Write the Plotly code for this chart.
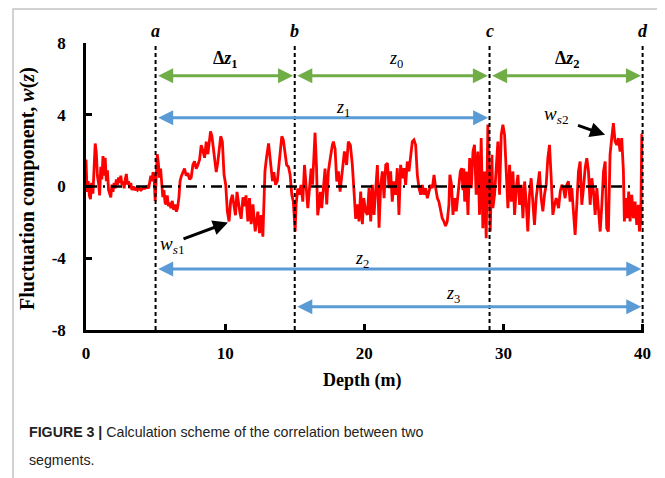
import plotly.graph_objects as go

# ---------------- data ----------------
depth = [
    0.0, 0.08, 0.16, 0.24, 0.32, 0.40, 0.50, 0.58, 0.66, 0.74, 0.82, 0.90, 0.98, 1.06, 1.14, 1.22, 1.30, 1.38,
    1.46, 1.54, 1.62, 1.70, 1.78, 1.86, 1.94, 2.02, 2.10, 2.18, 2.26, 2.34, 2.42, 2.50, 2.58, 2.66, 2.74, 2.82,
    2.90, 2.98, 3.06, 3.14, 3.22, 3.30, 3.40, 3.50, 3.60, 3.70, 3.80, 3.95, 4.10, 4.25, 4.40, 4.50, 4.58, 4.66,
    4.74, 4.82, 4.90, 4.97, 5.04, 5.12, 5.20, 5.28, 5.36, 5.44, 5.52, 5.60, 5.68, 5.76, 5.84, 5.92, 6.00, 6.10,
    6.20, 6.30, 6.40, 6.50, 6.58,
    6.68, 6.76, 6.84, 6.96, 7.08, 7.20, 7.32, 7.44, 7.56, 7.68, 7.80, 7.92, 8.04, 8.16, 8.28, 8.40, 8.52, 8.64,
    8.76, 8.88, 8.95, 9.05, 9.15, 9.24, 9.36, 9.48, 9.60, 9.68, 9.80, 9.92, 10.04, 10.16, 10.28, 10.40, 10.52,
    10.64, 10.74, 10.85, 10.95, 11.05, 11.15, 11.28, 11.40, 11.50, 11.63, 11.75, 11.87, 12.00, 12.08, 12.16,
    12.26, 12.35, 12.47, 12.59, 12.71, 12.80, 12.86, 12.97, 13.05, 13.12, 13.20, 13.28, 13.40,
    13.50, 13.62, 13.75, 13.85, 13.95, 14.07, 14.18, 14.30, 14.42, 14.55, 14.67, 14.79, 14.90, 15.03, 15.10,
    15.22, 15.32, 15.45, 15.58, 15.70, 15.82, 15.94, 16.06, 16.18, 16.28, 16.37, 16.46, 16.56, 16.65, 16.75,
    16.84, 16.94, 17.06, 17.18, 17.30, 17.42, 17.52, 17.61, 17.70, 17.78, 17.90, 18.02, 18.14, 18.26, 18.38,
    18.48, 18.57, 18.73, 18.85, 19.00, 19.14, 19.26, 19.38, 19.50, 19.62, 19.74, 19.86, 19.96, 20.10,
    20.22, 20.34, 20.46, 20.58, 20.70, 20.82, 20.94, 21.06, 21.18, 21.30, 21.42, 21.54, 21.66, 21.78, 21.89,
    22.01, 22.13, 22.25, 22.37, 22.49, 22.61, 22.73, 22.85, 22.97, 23.09, 23.21, 23.33, 23.45, 23.57, 23.69,
    23.81, 23.93, 24.05, 24.17, 24.29, 24.41, 24.53, 24.65, 24.77, 24.89, 25.01, 25.13, 25.25, 25.36, 25.48,
    25.60, 25.72, 25.84, 25.96, 26.08, 26.15, 26.27, 26.37, 26.51, 26.61, 26.75, 26.90, 27.00,
    27.09, 27.15, 27.21, 27.33, 27.45, 27.57, 27.69, 27.81, 27.92, 28.04, 28.16, 28.28, 28.40, 28.52, 28.64,
    28.76, 28.88, 28.95, 29.05, 29.17, 29.24, 29.36, 29.48, 29.60, 29.72, 29.84, 29.96, 30.08, 30.20, 30.32,
    30.44, 30.56, 30.68, 30.80, 30.92, 31.04, 31.16, 31.28, 31.40, 31.52, 31.63, 31.75, 31.87, 31.99, 32.11,
    32.23, 32.35, 32.47, 32.59, 32.71, 32.83, 32.95, 33.07, 33.19, 33.31, 33.43, 33.55, 33.67,
    33.79, 33.96, 34.08, 34.20, 34.31, 34.43, 34.55, 34.67, 34.79, 34.91, 35.03, 35.15, 35.27, 35.39, 35.51,
    35.63, 35.75, 35.87, 35.99, 36.11, 36.23, 36.35, 36.47, 36.59, 36.71, 36.83, 36.95, 37.07, 37.19, 37.31,
    37.42, 37.54, 37.66, 37.78, 37.90, 38.02, 38.14, 38.26, 38.38, 38.50, 38.62, 38.69, 38.81, 38.91, 39.00,
    39.10, 39.22, 39.34, 39.46, 39.58, 39.70, 39.77, 39.87, 39.94, 40.00,
]

w_fluct = [
    1.5, -0.3, 0.3, -0.5, -0.7, 0.2, -0.4, 1.2, 2.4, 1.9, 0.6, 0.2, -0.5, 1.1, 0.4, 1.7, 0.6, 1.6,
    0.3, 0.9, -0.2, -0.4, -0.6, 0.1, -0.3, 0.2, -0.1, 0.4, 0.1, 0.5, 0.2, 0.6, 0.1, 0.3, -0.1, 0.4,
    0.7, 0.1, 0.3, -0.1, 0.2, -0.2, 0.0, -0.2, -0.1, -0.2, -0.1, -0.2, -0.1, -0.1, 0.0, -0.1, 0.2, 0.6,
    0.3, 0.8, 0.5, -0.8, 0.4, 1.8, 1.3, 0.5, 1.0, -0.2, -0.6, -0.2, -0.9, -1.0, -0.5, -1.1, -0.9, -1.2,
    -0.8, -1.3, -1.0, -1.4, -1.2,
    -0.6, 0.3, 0.55, 0.8, 1.0, 0.6, 0.75, 0.4, 0.5, 1.2, 1.4, 1.0, 1.2, 1.5, 2.3, 2.0, 1.6, 2.5,
    1.8, 2.6, 3.07, 2.8, 2.2, 1.8, 0.8, 1.4, 2.2, 2.8, 2.5, 0.65, 0.1, -1.4, -1.95, -0.8, -0.46,
    -1.2, -1.6, -0.3, -1.0, -1.4, -1.8, -0.6, -1.1, -0.5, -1.95, -0.65, -2.1, -1.0, -1.8, -2.5,
    -1.9, -1.4, -2.6, -1.6, -2.8, -1.0, 0.85, 1.6, 2.0, 2.4, 1.8, 1.2, 0.3,
    0.8, 0.1, 0.3, 1.2, 2.1, 2.8, 2.6, 1.8, 1.2, 1.1, 0.65, -0.46, -0.85, -2.5, -1.0,
    -0.1, -0.46, 0.09, -0.84, 1.2, 0.1, -1.2, -0.1, 1.0, 0.1, 1.6, 3.0, 1.2, -1.6, -1.0,
    -0.3, -1.2, -0.1, 1.0, -1.0, 0.84, 1.4, 1.95, 2.3, 2.5, 2.1, 0.28, 0.84, -0.28, 0.46,
    1.3, 1.95, 1.2, 2.5, 2.3, 1.2, -0.28, -1.8, -1.0, -1.95, -0.28, -2.1, -0.65, -1.4,
    -1.58, -0.09, -1.95, 0.09, -1.58, -0.28, 1.2, -2.3, 0.09, 0.84, -0.65, 1.21, 1.3, -0.09, 0.84,
    -0.84, 0.28, -0.46, 1.02, -1.58, 1.21, 0.46, 1.02, 0.09, 1.39, 0.84, 1.58, 2.5, 2.6, 2.32,
    0.65, -0.09, -0.46, 0.09, -0.46, -0.09, -0.65, -0.28, 0.09, -0.09, 0.65, -0.09, -0.65, -0.84, -1.39,
    -1.77, -1.95, -2.2, -1.95, -1.02, 0.65, 0.09, -1.58, -0.65, -1.39, -0.09, 0.84, 1.02,
    -0.2, 1.0, -0.84, 0.84, -1.58, 1.58, -0.09, 1.95, 2.32, -0.46, 1.95, -1.58, 2.7, -2.32, 0.84,
    -2.88, 3.45, 0.84, -2.51, 1.77, -1.21, -0.46, 1.39, 2.51, -0.46, 2.88, 3.44, 2.88, 0.84, -1.21,
    1.21, -0.84, 0.84, -1.58, -0.09, 0.65, -1.02, 0.09, -1.77, 0.28, -0.84, -2.51, -0.46, 0.46, -0.84,
    -2.14, -0.65, 0.09, 0.84, -0.65, -1.39, -0.46, 0.09, 1.58, 2.32, 0.46, -1.58, -1.02,
    -0.65, -1.21, -0.28, 0.09, -0.09, -0.65, 0.09, 0.28, -0.84, -0.09, -1.39, -2.7, -1.02, 0.84, 1.39,
    -1.02, -0.09, 1.02, 1.58, 0.84, -1.02, 0.46, -0.28, -1.58, -0.09, -1.21, -2.51, -1.02, 0.84, 1.39,
    -2.32, -2.51, 1.77, 2.7, 3.53, 2.51, 2.32, 2.7, 1.95, 2.7, 0.84, -1.95, -0.65, -1.77, -0.28,
    -1.95, -0.46, -1.77, -0.84, -2.14, -1.02, -2.51, -1.95, 2.88, 2.9,
]

boundary_depth = [5, 15, 29, 40]
boundary_label = ["a", "b", "c", "d"]

x_ticks = [0, 10, 20, 30, 40]
y_ticks = [-8, -4, 0, 4, 8]
y_ticktext = ["-8", "-4", "0", "4", "8"]

# arrows: (start depth, end depth) and levels
green_spans = [(5, 15), (15, 29), (29, 40)]
green_level = 6.18
blue_spans = [(5, 29, 3.83), (5, 40, -4.6), (15, 40, -6.7)]

span_labels = [
    ("<b>Δ<i>z</i><sub>1</sub></b>", 10.0, 7.1),
    ("<i>z</i><sub>0</sub>", 22.3, 7.1),
    ("<b>Δ<i>z</i><sub>2</sub></b>", 34.6, 7.1),
    ("<i>z</i><sub>1</sub>", 18.5, 4.35),
    ("<i>z</i><sub>2</sub>", 19.8, -4.05),
    ("<i>z</i><sub>3</sub>", 26.4, -6.0),
]

# ---------------- figure ----------------
SERIF = "Liberation Serif, Times New Roman, serif"
SANS = "Liberation Sans, Arial, sans-serif"
GREEN = "#70AD47"
BLUE = "#5B9BD5"

# the page body has an 8px margin, so the figure starts at screen (8, 8)
OX, OY = 8, 8
W, H = 665 - OX, 478 - OY
PLOT_LEFT, PLOT_TOP = 86, 43          # screen px
PW, PH = 558, 287
ML, MT = PLOT_LEFT - OX, PLOT_TOP - OY
MR = W - ML - PW
MB = H - MT - PH


def px_to_paper_x(px):
    return (px - PLOT_LEFT) / PW


def py_to_paper_y(py):
    return (PLOT_TOP + PH - py) / PH


fig = go.Figure()

fig.add_trace(go.Scatter(
    x=depth, y=w_fluct, mode="lines",
    line=dict(color="#FF0000", width=2.8),
    showlegend=False, hoverinfo="skip",
))

fig.add_trace(go.Scatter(
    x=[0, 39.5], y=[0, 0], mode="lines",
    line=dict(color="black", width=2.5, dash="11px,6px,2px,6px"),
    showlegend=False, hoverinfo="skip",
))

shapes = []
for d in boundary_depth:
    shapes.append(dict(
        type="line", xref="x", yref="y", x0=d, x1=d, y0=-8, y1=7.9,
        line=dict(color="black", width=2, dash="4px,3px"),
    ))

# grey frame around the figure panel
shapes.append(dict(
    type="rect", xref="paper", yref="paper",
    x0=px_to_paper_x(13), x1=px_to_paper_x(660),
    y0=py_to_paper_y(9), y1=py_to_paper_y(495),
    line=dict(color="#C4C4C4", width=1.5), fillcolor="rgba(0,0,0,0)",
    layer="below",
))

annotations = []
for d, lab in zip(boundary_depth, boundary_label):
    annotations.append(dict(
        x=d, y=py_to_paper_y(31), xref="x", yref="paper", text="<b><i>%s</i></b>" % lab,
        showarrow=False, font=dict(family=SERIF, size=18, color="black"),
        yanchor="middle",
    ))


def double_arrow(x0, x1, y, color):
    return dict(
        x=x1, y=y, ax=x0, ay=y, xref="x", yref="y", axref="x", ayref="y",
        text="", showarrow=True, arrowhead=2, arrowside="end+start",
        arrowsize=1.0, arrowwidth=3, arrowcolor=color, standoff=0, startstandoff=0,
    )


for a0, a1 in green_spans:
    annotations.append(double_arrow(a0 + 0.08, a1 - 0.12, green_level, GREEN))
for a0, a1, lev in blue_spans:
    annotations.append(double_arrow(a0 + 0.08, a1 - 0.1, lev, BLUE))

for txt, xx, yy in span_labels:
    annotations.append(dict(
        x=xx, y=yy, xref="x", yref="y", text=txt,
        showarrow=False, font=dict(family=SERIF, size=18, color="black"),
    ))

# w_s1 / w_s2 labels and pointers
annotations.append(dict(
    x=6.2, y=-3.25, xref="x", yref="y", text="<i>w</i><sub><i>s</i>1</sub>",
    showarrow=False, font=dict(family=SERIF, size=19, color="black"),
))
annotations.append(dict(
    x=10.2, y=-2.0, ax=6.9, ay=-2.95, xref="x", yref="y", axref="x", ayref="y",
    text="", showarrow=True, arrowhead=2, arrowsize=1.0, arrowwidth=3,
    arrowcolor="black", standoff=0, startstandoff=0,
))
annotations.append(dict(
    x=33.8, y=4.0, xref="x", yref="y", text="<i>w</i><sub><i>s</i>2</sub>",
    showarrow=False, font=dict(family=SERIF, size=19, color="black"),
))
annotations.append(dict(
    x=37.3, y=2.88, ax=35.25, ay=3.44, xref="x", yref="y", axref="x", ayref="y",
    text="", showarrow=True, arrowhead=2, arrowsize=1.0, arrowwidth=3,
    arrowcolor="black", standoff=0, startstandoff=0,
))

# axis titles
annotations.append(dict(
    x=px_to_paper_x(27), y=py_to_paper_y(189), xref="paper", yref="paper",
    text="<b>Fluctuation component, <i>w</i>(<i>z</i>)</b>", textangle=-90,
    showarrow=False, font=dict(family=SERIF, size=20, color="black"),
    xanchor="center", yanchor="middle",
))
annotations.append(dict(
    x=px_to_paper_x(362), y=py_to_paper_y(380), xref="paper", yref="paper",
    text="<b>Depth (m)</b>", showarrow=False,
    font=dict(family=SERIF, size=18, color="black"),
    xanchor="center", yanchor="middle",
))

# caption
annotations.append(dict(
    x=px_to_paper_x(27), y=py_to_paper_y(432), xref="paper", yref="paper",
    text="<b>FIGURE 3 |</b> Calculation scheme of the correlation between two",
    showarrow=False, font=dict(family=SANS, size=14.2, color="#222222"),
    xanchor="left", yanchor="middle",
))
annotations.append(dict(
    x=px_to_paper_x(27), y=py_to_paper_y(460), xref="paper", yref="paper",
    text="segments.", showarrow=False,
    font=dict(family=SANS, size=14.2, color="#222222"),
    xanchor="left", yanchor="middle",
))

axis_font = dict(family=SERIF, size=17, color="black", weight="bold")

fig.update_layout(
    width=W, height=H,
    margin=dict(l=ML, r=MR, t=MT, b=MB, pad=0),
    paper_bgcolor="white", plot_bgcolor="white",
    showlegend=False,
    shapes=shapes,
    annotations=annotations,
    xaxis=dict(
        range=[0, 40.1], tickvals=x_ticks, ticktext=[str(t) for t in x_ticks],
        showgrid=False, zeroline=False, showline=True, linecolor="black", linewidth=2.5,
        ticks="inside", ticklen=6, tickwidth=2.5, tickcolor="black",
        tickfont=axis_font, ticklabelstandoff=6,
    ),
    yaxis=dict(
        range=[-8, 8], tickvals=y_ticks, ticktext=y_ticktext,
        showgrid=False, zeroline=False, showline=True, linecolor="black", linewidth=2.5,
        ticks="inside", ticklen=6, tickwidth=2.5, tickcolor="black",
        tickfont=axis_font, ticklabelstandoff=14,
    ),
)

fig.write_html("out.html")
